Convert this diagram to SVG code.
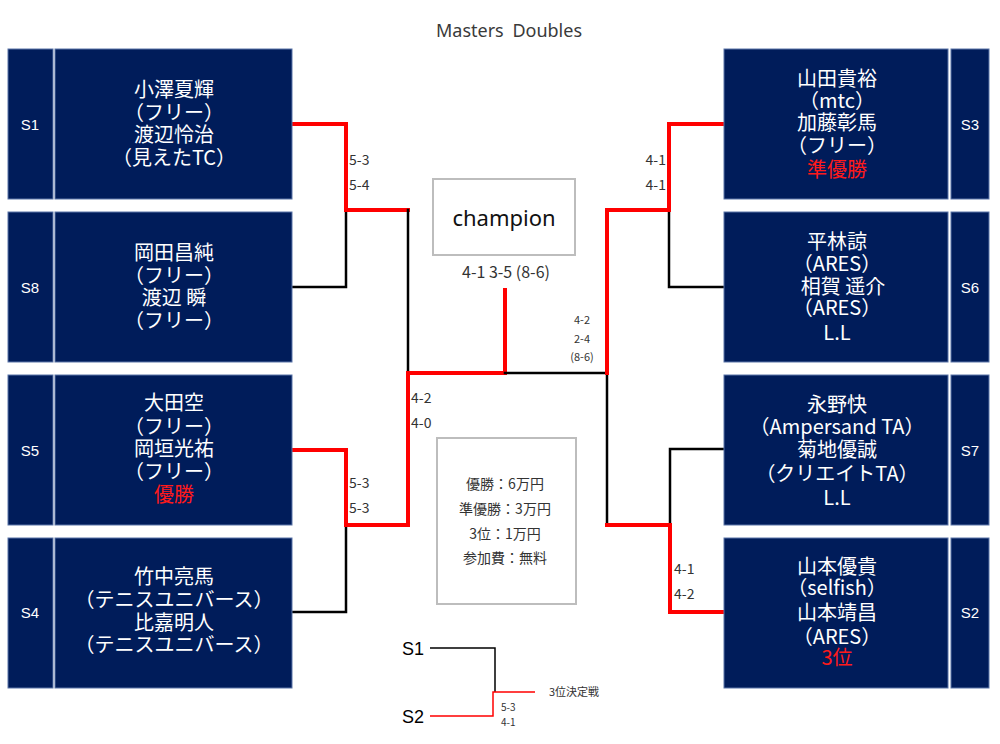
<svg xmlns="http://www.w3.org/2000/svg" width="1000" height="744" viewBox="0 0 1000 744">
<style>
.bx{fill:#001c5a;stroke:#5a74a8;stroke-width:1}
.nm{font-family:"Noto Sans CJK JP","Noto Sans",sans-serif;font-size:20px;fill:#ffffff;text-anchor:middle}
.sd{font-family:"Liberation Sans","Noto Sans",sans-serif;font-size:15px;fill:#ffffff;text-anchor:middle}
.rd{fill:#ff1a1a}
.sc{font-family:"Noto Sans CJK JP","Noto Sans",sans-serif;font-size:14px;fill:#333}
.s11{font-size:11px}
.s10{font-size:10px}
.s16{font-size:16px}
.r{fill:none;stroke:#ff0000;stroke-width:4;stroke-linecap:square}
.k{fill:none;stroke:#000;stroke-width:2.5;stroke-linecap:square}
.gb{fill:#fff;stroke:#bdbdbd;stroke-width:2}
</style>
<rect width="1000" height="744" fill="#fff"/>
<text x="509" y="37" font-family="'Noto Sans',sans-serif" font-size="18" fill="#3a3a3a" text-anchor="middle" word-spacing="4">Masters Doubles</text>

<g id="connectors">
<polyline class="k" points="292,287 346,287 346,210"/>
<polyline class="r" points="292,124 346,124 346,210 408,210"/>
<polyline class="k" points="408,210 408,373"/>
<polyline class="k" points="292,612 346,612 346,525"/>
<polyline class="r" points="292,450 346,450 346,525 408,525 408,373 505,373 505,290"/>
<polyline class="k" points="505,373 607,373 607,525"/>
<polyline class="k" points="724,287 669,287 669,210"/>
<polyline class="r" points="724,124 669,124 669,210 607,210 607,373"/>
<polyline class="k" points="724,449 670,449 670,525"/>
<polyline class="r" points="607,525 670,525 670,612 724,612"/>
<polyline fill="none" stroke="#000" stroke-width="1.5" points="430,648 495,648 495,692"/>
<polyline fill="none" stroke="#ff0000" stroke-width="1.5" points="430,716 493,716 493,692 535,692"/>
</g>

<g id="S1"><rect class="bx" x="8" y="49" width="45" height="150"/><rect class="bx" x="55" y="49" width="237" height="150"/>
<text class="sd" x="30" y="130">S1</text>
<text class="nm" x="174" y="97">小澤夏輝</text><text class="nm" x="174" y="120">（フリー）</text><text class="nm" x="174" y="142">渡辺怜治</text><text class="nm" x="174" y="165">（見えたTC）</text></g>

<g id="S8"><rect class="bx" x="8" y="212" width="45" height="150"/><rect class="bx" x="55" y="212" width="237" height="150"/>
<text class="sd" x="30" y="293">S8</text>
<text class="nm" x="174" y="260">岡田昌純</text><text class="nm" x="174" y="283">（フリー）</text><text class="nm" x="174" y="305">渡辺 瞬</text><text class="nm" x="174" y="328">（フリー）</text></g>

<g id="S5"><rect class="bx" x="8" y="375" width="45" height="150"/><rect class="bx" x="55" y="375" width="237" height="150"/>
<text class="sd" x="30" y="456">S5</text>
<text class="nm" x="174" y="410">大田空</text><text class="nm" x="174" y="434">（フリー）</text><text class="nm" x="174" y="456">岡垣光祐</text><text class="nm" x="174" y="479">（フリー）</text><text class="nm rd" x="174" y="502">優勝</text></g>

<g id="S4"><rect class="bx" x="8" y="538" width="45" height="150"/><rect class="bx" x="55" y="538" width="237" height="150"/>
<text class="sd" x="30" y="618">S4</text>
<text class="nm" x="174" y="584">竹中亮馬</text><text class="nm" x="174" y="607">（テニスユニバース）</text><text class="nm" x="174" y="630">比嘉明人</text><text class="nm" x="174" y="652">（テニスユニバース）</text></g>

<g id="S3"><rect class="bx" x="724" y="49" width="224" height="150"/><rect class="bx" x="951" y="49" width="38" height="150"/>
<text class="sd" x="970" y="130">S3</text>
<text class="nm" x="837" y="86">山田貴裕</text><text class="nm" x="837" y="108">（mtc）</text><text class="nm" x="837" y="130">加藤彰馬</text><text class="nm" x="837" y="153">（フリー）</text><text class="nm rd" x="837" y="177">準優勝</text></g>

<g id="S6"><rect class="bx" x="724" y="212" width="224" height="150"/><rect class="bx" x="951" y="212" width="38" height="150"/>
<text class="sd" x="970" y="293">S6</text>
<text class="nm" x="837" y="249">平林諒</text><text class="nm" x="837" y="271">（ARES）</text><text class="nm" x="843" y="294">相賀 遥介</text><text class="nm" x="837" y="315">（ARES）</text><text class="nm" x="837" y="340">L.L</text></g>

<g id="S7"><rect class="bx" x="724" y="375" width="224" height="150"/><rect class="bx" x="951" y="375" width="38" height="150"/>
<text class="sd" x="970" y="456">S7</text>
<text class="nm" x="837" y="412">永野快</text><text class="nm" x="837" y="434">（Ampersand TA）</text><text class="nm" x="837" y="457">菊地優誠</text><text class="nm" x="837" y="481">（クリエイトTA）</text><text class="nm" x="837" y="505">L.L</text></g>

<g id="S2"><rect class="bx" x="724" y="538" width="224" height="150"/><rect class="bx" x="951" y="538" width="38" height="150"/>
<text class="sd" x="970" y="618">S2</text>
<text class="nm" x="837" y="574">山本優貴</text><text class="nm" x="837" y="595">（selfish）</text><text class="nm" x="837" y="620">山本靖昌</text><text class="nm" x="837" y="644">（ARES）</text><text class="nm rd" x="837" y="665">3位</text></g>

<g id="champion"><rect class="gb" x="433" y="179" width="142" height="76"/>
<text x="504" y="226" font-family="'Noto Sans',sans-serif" font-size="22" fill="#111" text-anchor="middle">champion</text>
<text class="sc s16" x="506" y="278" text-anchor="middle">4-1 3-5 (8-6)</text></g>

<g id="prize"><rect class="gb" x="437" y="438" width="139" height="166"/>
<text class="sc" x="505" y="489" text-anchor="middle">優勝：6万円</text>
<text class="sc" x="505" y="514" text-anchor="middle">準優勝：3万円</text>
<text class="sc" x="505" y="539" text-anchor="middle">3位：1万円</text>
<text class="sc" x="505" y="563" text-anchor="middle">参加費：無料</text></g>

<g id="scores">
<text class="sc" x="349" y="165">5-3</text><text class="sc" x="349" y="190">5-4</text>
<text class="sc" x="349" y="488">5-3</text><text class="sc" x="349" y="513">5-3</text>
<text class="sc" x="411" y="403">4-2</text><text class="sc" x="411" y="428">4-0</text>
<text class="sc" x="666" y="165" text-anchor="end">4-1</text><text class="sc" x="666" y="190" text-anchor="end">4-1</text>
<text class="sc" x="674" y="574">4-1</text><text class="sc" x="674" y="599">4-2</text>
<text class="sc s11" x="582" y="324" text-anchor="middle">4-2</text>
<text class="sc s11" x="582" y="343" text-anchor="middle">2-4</text>
<text class="sc s11" x="582" y="361" text-anchor="middle">(8-6)</text>
</g>

<g id="third">
<text x="402" y="655" font-family="'Liberation Sans',sans-serif" font-size="18" fill="#000">S1</text>
<text x="402" y="723" font-family="'Liberation Sans',sans-serif" font-size="18" fill="#000">S2</text>
<text class="sc s11" x="549" y="696">3位決定戦</text>
<text class="sc s10" x="501" y="711">5-3</text>
<text class="sc s10" x="501" y="726">4-1</text>
</g>
</svg>
